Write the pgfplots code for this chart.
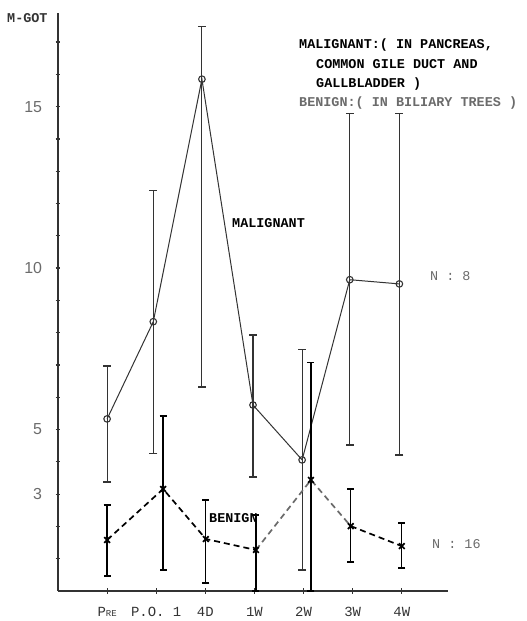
\documentclass[border=0pt]{standalone}
\usepackage{fontspec}
\setmainfont{Liberation Sans}
\setmonofont{Liberation Mono}
\usepackage{pgfplots}
\pgfplotsset{compat=1.18}
\usepackage{pgfplotstable}

\pgfplotstableread{
x    y     ep    em
1.00 5.33  1.64  1.95
1.94 8.34  4.06  4.09
2.93 15.85 1.63  9.53
3.97 5.76  2.17  2.23
4.97 4.06  3.41  3.41
5.94 9.64  5.14  5.12
6.95 9.51  5.27  5.30
}\malig

\pgfplotstableread{
x    y     ep    em
1.00 1.58  1.08  1.12
2.14 3.16  2.26  2.51
3.01 1.61  1.21  1.36
4.03 1.27  1.08  1.27
5.15 3.44  3.63  3.44
5.96 2.01  1.15  1.11
7.00 1.39  0.72  0.68
}\benign

\definecolor{ink}{gray}{0.2}
\definecolor{lightink}{gray}{0.42}

\begin{document}
\begin{tikzpicture}
\useasboundingbox (-58bp,-30bp) rectangle (469bp,591bp);
\begin{axis}[
  at={(0,0)}, anchor=south west,
  scale only axis, width=390bp, height=578bp,
  xmin=0, xmax=7.94, ymin=0, ymax=17.9,
  axis lines=left,
  axis line style={-, line width=1.6bp, draw=ink},
  clip=false,
  /pgf/number format/assume math mode=true,
  xtick={1,2,3,4,5,6,7},
  xticklabels={P{\small RE}, P.O. 1, 4D, 1W, 2W, 3W, 4W},
  ytick={3,5,10,15},
  extra y ticks={1,2,4,6,7,8,9,11,12,13,14,16,17},
  extra y tick labels={},
  tick align=center,
  major tick length=5bp,
  tick style={line width=1.2bp, draw=ink},
  xticklabel style={font=\ttfamily\fontsize{14}{16}\selectfont, text=ink, yshift=-10bp},
  yticklabel style={font=\fontsize{16}{18}\selectfont, text=lightink, xshift=-10bp},
]
% malignant line
\addplot[ink, line width=1bp, no marks] table[x=x,y=y]{\malig};
% malignant error bars and markers
\addplot[ink, only marks, mark=o, mark size=3.3bp, mark options={fill=white, line width=1.1bp},
  error bars/.cd, y dir=both, y explicit,
  error bar style={line width=1.1bp, ink},
  error mark options={rotate=90, line width=1.3bp, mark size=4bp, ink}]
  table[x=x,y=y,y error plus=ep,y error minus=em]{\malig};
% benign dashed line
\addplot[black, line width=1.7bp, dash pattern=on 6bp off 4bp, no marks,
  restrict x to domain=0:4.1] table[x=x,y=y]{\benign};
\addplot[lightink, line width=1.7bp, dash pattern=on 6bp off 4bp, no marks,
  restrict x to domain=4:6] table[x=x,y=y]{\benign};
\addplot[black, line width=1.7bp, dash pattern=on 6bp off 4bp, no marks,
  restrict x to domain=5.9:7.1] table[x=x,y=y]{\benign};
% benign error bars and markers
\addplot[black, only marks, mark=x, mark size=4bp, mark options={line width=1.7bp},
  error bars/.cd, y dir=both, y explicit,
  error bar style={line width=1.3bp, black},
  error mark options={rotate=90, line width=1.5bp, mark size=3.5bp, black}]
  table[x=x,y=y,y error plus=ep,y error minus=em]{\benign};
\end{axis}
\begin{scope}[font=\ttfamily\bfseries\fontsize{13.5}{15}\selectfont]
\node[anchor=west, inner sep=0] at (241bp,546bp) {MALIGNANT:( IN PANCREAS,};
\node[anchor=west, inner sep=0] at (258bp,527bp) {COMMON GILE DUCT AND};
\node[anchor=west, inner sep=0] at (258bp,507bp) {GALLBLADDER )};
\node[anchor=west, inner sep=0, text=lightink] at (241bp,488bp) {BENIGN:( IN BILIARY TREES )};
\node[anchor=west, inner sep=0] at (174bp,368bp) {MALIGNANT};
\node[anchor=west, inner sep=0] at (151bp,73bp) {BENIGN};
\node[anchor=west, inner sep=0, text=ink] at (-51bp,573bp) {M-GOT};
\end{scope}
\begin{scope}[font=\ttfamily\fontsize{13.5}{15}\selectfont, text=lightink]
\node[anchor=west, inner sep=0] at (372bp,315bp) {N : 8};
\node[anchor=west, inner sep=0] at (374bp,47bp) {N : 16};
\end{scope}
\end{tikzpicture}
\end{document}
